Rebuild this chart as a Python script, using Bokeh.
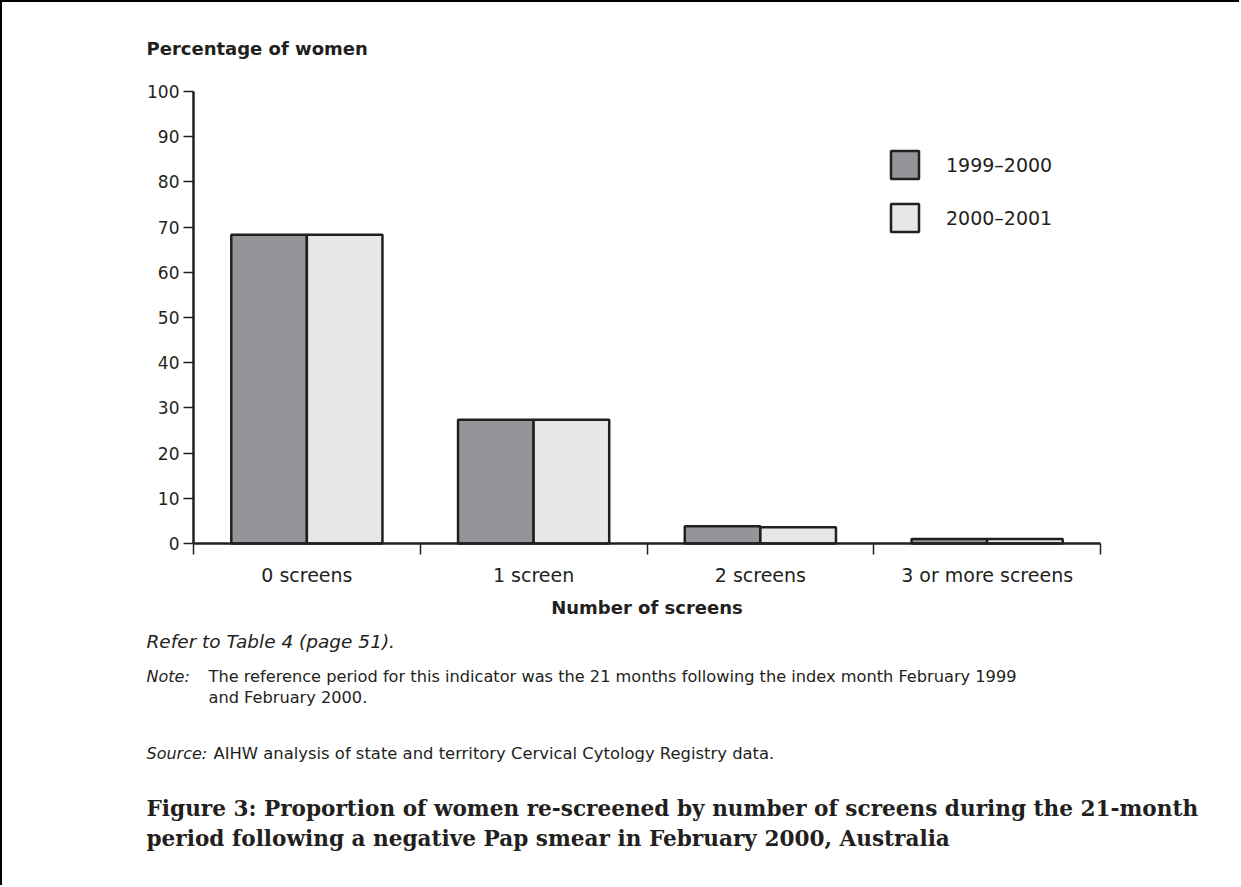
import numpy as np
from bokeh.plotting import figure
from bokeh.models import Range1d, FixedTicker, Label, Legend, LegendItem, LinearAxis
from bokeh.embed import file_html
from bokeh.resources import INLINE

# ---------------- data ----------------
categories = ["0 screens", "1 screen", "2 screens", "3 or more screens"]
series_names = ["1999\u20132000", "2000\u20132001"]
values_1999_2000 = [68.3, 27.4, 3.8, 1.0]
values_2000_2001 = [68.3, 27.4, 3.6, 1.0]
y_ticks = [0, 10, 20, 30, 40, 50, 60, 70, 80, 90, 100]
y_max = 100

# ---------------- layout (canvas pixels) ----------------
BORDER = 2
W, H = 1241 - BORDER, 887 - BORDER
AX_L, AX_R = 191, 1098     # x of value-axis and right end of category axis
AX_T, AX_B = 89, 541       # y of 100 and of 0
TXT = "#231f20"
DARK = "#939598"
LIGHT = "#e6e7e8"

ncat = len(categories)
px_per_x = (AX_R - AX_L) / ncat
px_per_y = (AX_B - AX_T) / y_max
x_range = Range1d(-AX_L / px_per_x, ncat + (W - AX_R) / px_per_x)
y_range = Range1d(-(H - AX_B) / px_per_y, y_max + AX_T / px_per_y)

p = figure(width=W, height=H, x_range=x_range, y_range=y_range,
           output_backend="svg", toolbar_location=None,
           x_axis_location=None, y_axis_location=None,
           min_border_left=0, min_border_right=0, min_border_top=0, min_border_bottom=0)
p.outline_line_color = None
p.grid.visible = False
p.background_fill_color = "white"
p.border_fill_color = "white"
p.styles = {"border-left": "2px solid #000", "border-top": "2px solid #000"}

centers = np.arange(ncat) + 0.5
bw = 1 / 3
r1 = p.vbar(x=centers - bw / 2, top=values_1999_2000, width=bw, bottom=0,
            fill_color=DARK, line_color=TXT, line_width=2.5)
r2 = p.vbar(x=centers + bw / 2, top=values_2000_2001, width=bw, bottom=0,
            fill_color=LIGHT, line_color=TXT, line_width=2.5)

# y axis (fixed at x = 0)
ya = LinearAxis(fixed_location=0, bounds=(0, y_max), ticker=FixedTicker(ticks=y_ticks))
ya.major_tick_out = 10
ya.major_tick_in = 0
ya.minor_tick_out = 0
ya.minor_tick_in = 0
ya.axis_line_width = 2.5
ya.axis_line_color = TXT
ya.major_tick_line_color = TXT
ya.major_tick_line_width = 1.5
ya.major_label_text_font = "DejaVu Sans"
ya.major_label_text_font_size = "17px"
ya.major_label_text_color = TXT
ya.major_label_standoff = 4
p.add_layout(ya, "left")

# x axis (fixed at y = 0)
xa = LinearAxis(fixed_location=0, bounds=(0, ncat),
                ticker=FixedTicker(ticks=list(centers), minor_ticks=list(range(ncat + 1))))
xa.major_label_overrides = {float(c): cat for c, cat in zip(centers, categories)}
xa.major_tick_out = 0
xa.major_tick_in = 0
xa.minor_tick_out = 11
xa.minor_tick_in = 0
xa.minor_tick_line_color = TXT
xa.minor_tick_line_width = 1.5
xa.axis_line_width = 2.5
xa.axis_line_color = TXT
xa.major_label_text_font = "DejaVu Sans"
xa.major_label_text_font_size = "19px"
xa.major_label_text_color = TXT
xa.major_label_standoff = 9
p.add_layout(xa, "below")

# legend (glyph box is drawn inset by 10 % on each side)
legend = Legend(items=[LegendItem(label=series_names[0], renderers=[r1]),
                       LegendItem(label=series_names[1], renderers=[r2])],
                location=(885, 652), glyph_width=35, glyph_height=35,
                label_standoff=24, spacing=18, padding=0, margin=0,
                border_line_color=None, background_fill_alpha=0,
                label_text_font="DejaVu Sans", label_text_font_size="19px",
                label_text_color=TXT)
p.add_layout(legend)


def dx(rx):
    return (rx - BORDER - AX_L) / px_per_x


def dy(ry):
    return (AX_B - (ry - BORDER)) / px_per_y


def add_text(rx, ry, text, size, style="normal", font="DejaVu Sans", align="left", data_x=None):
    p.add_layout(Label(x=dx(rx) if data_x is None else data_x, y=dy(ry), text=text,
                       text_font=font, text_font_size=size, text_font_style=style,
                       text_color=TXT, text_align=align, text_baseline="middle"))


add_text(146, 48, "Percentage of women", "18px", "bold")
add_text(0, 607, "Number of screens", "18px", "bold", align="center", data_x=ncat / 2)
add_text(146, 641, "Refer to Table 4 (page 51).", "18.5px", "italic")
add_text(146, 676, "Note:", "16px", "italic")
add_text(208, 676, "The reference period for this indicator was the 21 months following the index month February 1999", "16.2px")
add_text(208, 697, "and February 2000.", "16.2px")
add_text(146, 753, "Source:", "16px", "italic")
add_text(213, 753, "AIHW analysis of state and territory Cervical Cytology Registry data.", "16.4px")
add_text(146, 808, "Figure 3: Proportion of women re-screened by number of screens during the 21-month",
         "21.6px", "bold", font="DejaVu Serif")
add_text(146, 838, "period following a negative Pap smear in February 2000, Australia",
         "21.6px", "bold", font="DejaVu Serif")

open("out.html", "w").write(file_html(p, INLINE))
